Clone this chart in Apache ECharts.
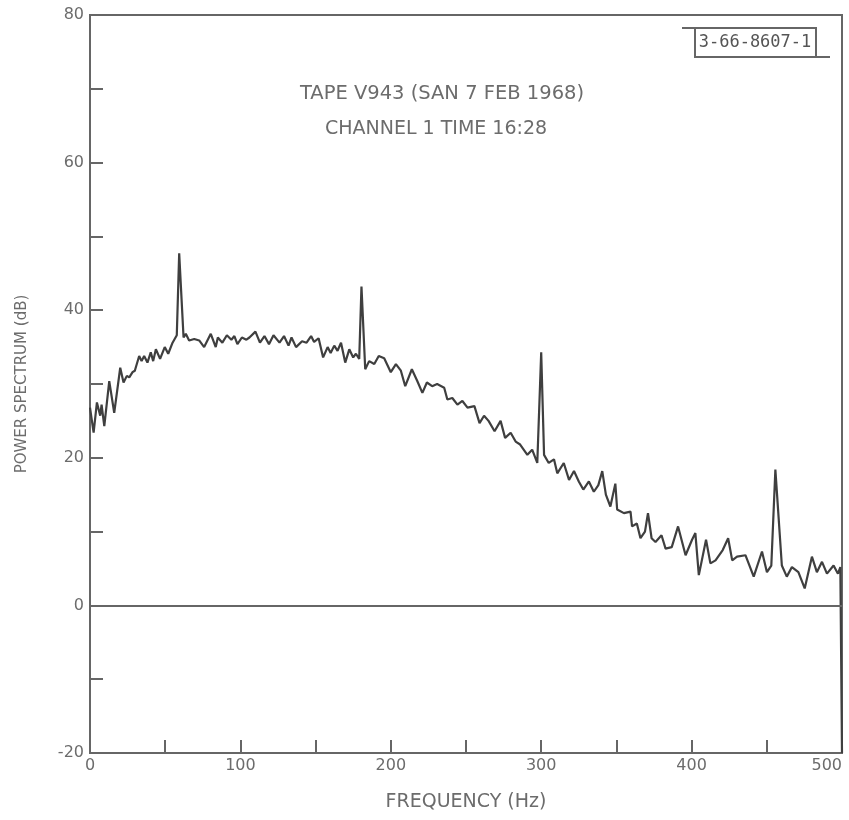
<!DOCTYPE html>
<html>
<head>
<meta charset="utf-8">
<script src="https://cdn.jsdelivr.net/npm/echarts@6/dist/echarts.min.js"></script>
<style>html,body{margin:0;padding:0;background:#fff;overflow:hidden}#c{width:849px;height:820px}</style>
</head>
<body>
<div id="c"></div>
<script>
// Frequency (Hz) of each sample of the trace
var freq = [0, 2.4, 4.6, 6.8, 7.7, 9.5, 12.8, 16.1, 20.1, 22.3, 24.5, 26.1, 28.3, 29.8, 32.7, 34.3, 36, 38.2, 40.4, 42, 43.8, 46.6, 49.7, 52, 54.9, 57.7, 59.3, 62.2, 63.7, 65.9, 69.3, 72.6, 75.9, 80.3, 83.6, 85, 88, 91, 94, 96, 98, 101, 104, 106, 110, 113, 116, 119, 122, 126, 129, 132, 134, 137, 141, 144, 147, 149, 152, 155, 158, 160, 162.4, 164.6, 166.9, 169.7, 172.4, 175, 176.8, 179, 180.5, 183, 185.6, 189, 192, 195.6, 200, 203.4, 206.7, 209.6, 214, 217.6, 221, 224, 227.5, 230.8, 235.5, 237.6, 240.9, 244.3, 247.6, 251, 255.6, 259, 262, 265, 269, 273, 276, 279.7, 283, 286, 290.8, 294, 297.4, 300, 301.9, 305, 308.5, 310.7, 315, 318.5, 321.8, 325, 328, 331.7, 335, 338, 340.6, 343, 346, 349.3, 350.5, 355, 359.4, 360.4, 363.6, 366, 369, 371, 373.4, 376, 380, 382.7, 386.8, 391, 396, 400.3, 402.5, 404.8, 409.6, 412.5, 415.9, 420.7, 424.3, 427, 430.2, 435.8, 441.3, 446.8, 450.1, 453, 455.7, 460, 463.3, 466.7, 471, 475.2, 480, 483.3, 486.7, 490, 494.4, 497.3, 498.9, 500];
// Power spectrum (dB) at each frequency
var power = [26.8, 23.4, 27.5, 25.7, 27.2, 24.3, 30.4, 26.1, 32.2, 30.2, 31.1, 30.9, 31.6, 31.8, 33.8, 33.1, 33.8, 32.9, 34.3, 33.1, 34.7, 33.4, 35, 34.1, 35.6, 36.6, 47.7, 36.3, 36.8, 35.9, 36.1, 35.9, 35, 36.8, 35, 36.3, 35.6, 36.6, 36, 36.5, 35.4, 36.3, 36, 36.3, 37.1, 35.6, 36.5, 35.4, 36.6, 35.6, 36.5, 35.2, 36.3, 35, 35.8, 35.6, 36.5, 35.7, 36.2, 33.6, 35, 34.2, 35.2, 34.5, 35.6, 32.9, 34.7, 33.6, 34.1, 33.4, 43.2, 32, 33.1, 32.7, 33.8, 33.5, 31.6, 32.7, 31.8, 29.7, 32, 30.4, 28.8, 30.2, 29.7, 30, 29.5, 27.9, 28.1, 27.2, 27.7, 26.8, 27, 24.7, 25.7, 25, 23.6, 25, 22.7, 23.4, 22.2, 21.8, 20.4, 21.1, 19.3, 34.3, 20.4, 19.3, 19.8, 17.9, 19.3, 17, 18.2, 16.8, 15.7, 16.8, 15.4, 16.3, 18.2, 15, 13.4, 16.5, 13, 12.5, 12.7, 10.7, 11.1, 9.1, 10, 12.5, 9.1, 8.6, 9.5, 7.7, 7.9, 10.7, 6.8, 8.9, 9.8, 4.1, 8.9, 5.7, 6.1, 7.5, 9.1, 6.1, 6.6, 6.8, 3.9, 7.3, 4.5, 5.4, 18.4, 5.4, 3.9, 5.2, 4.5, 2.3, 6.6, 4.5, 5.9, 4.3, 5.4, 4.3, 5.2, -20];
var xLabels = ['0', '100', '200', '300', '400', '500'];
var yLabels = ['-20', '0', '20', '40', '60', '80'];
var titleLine1 = 'TAPE V943 (SAN 7 FEB 1968)';
var titleLine2 = 'CHANNEL 1 TIME 16:28';
var refCode = '3-66-8607-1';

var axisColor = '#666666';
var textColor = '#6c6c6c';
var fam = 'DejaVu Sans';

var pts = freq.map(function (f, i) { return [f, power[i]]; });

var chart = echarts.init(document.getElementById('c'), null, { renderer: 'canvas', width: 849, height: 820 });
chart.setOption({
  backgroundColor: '#ffffff',
  animation: false,
  grid: { left: 90, right: 7, top: 15, bottom: 67, show: true, borderColor: axisColor, borderWidth: 2,
    containLabel: false, outerBoundsMode: 'none' },
  graphic: [
    { type: 'text', style: { text: titleLine1, x: 442, y: 94, textAlign: 'center', textVerticalAlign: 'middle',
      font: '19.5px "DejaVu Sans"', fill: textColor } },
    { type: 'text', style: { text: titleLine2, x: 436, y: 129, textAlign: 'center', textVerticalAlign: 'middle',
      font: '19px "DejaVu Sans"', fill: textColor } },
    { type: 'rect', shape: { x: 695, y: 28, width: 121, height: 29 }, style: { fill: 'none', stroke: axisColor, lineWidth: 2 } },
    { type: 'line', shape: { x1: 682, y1: 28, x2: 695, y2: 28 }, style: { stroke: axisColor, lineWidth: 2 } },
    { type: 'line', shape: { x1: 816, y1: 57, x2: 830, y2: 57 }, style: { stroke: axisColor, lineWidth: 2 } },
    { type: 'text', style: { text: refCode, x: 755, y: 43, textAlign: 'center', textVerticalAlign: 'middle',
      font: '17px "DejaVu Sans Mono"', fill: '#555555' } }
  ],
  xAxis: {
    type: 'value', min: 0, max: 500, interval: 50,
    name: 'FREQUENCY (Hz)', nameLocation: 'middle', nameGap: 40,
    nameTextStyle: { fontFamily: fam, fontSize: 19, color: textColor },
    axisLine: { show: true, onZero: false, lineStyle: { color: axisColor, width: 2 } },
    axisTick: { show: true, inside: true, length: 13, lineStyle: { color: axisColor, width: 2 } },
    splitLine: { show: false },
    axisLabel: { fontFamily: fam, fontSize: 16, color: textColor, margin: 5, alignMaxLabel: 'right',
      formatter: function (v) { var k = xLabels.indexOf(String(v)); return k >= 0 ? xLabels[k] : ''; } }
  },
  yAxis: {
    type: 'value', min: -20, max: 80, interval: 10,
    name: 'POWER SPECTRUM (dB)', nameLocation: 'middle', nameGap: 60,
    nameTextStyle: { fontFamily: fam, fontSize: 15, color: textColor },
    axisLine: { show: true, onZero: false, lineStyle: { color: axisColor, width: 2 } },
    axisTick: { show: true, inside: true, length: 13, lineStyle: { color: axisColor, width: 2 } },
    splitLine: { show: false },
    axisLabel: { fontFamily: fam, fontSize: 16, color: textColor, margin: 6,
      formatter: function (v) { var k = yLabels.indexOf(String(v)); return k >= 0 ? yLabels[k] : ''; } }
  },
  series: [{
    type: 'line', data: pts, showSymbol: false, symbol: 'none',
    lineStyle: { color: '#3f3f3f', width: 2.2 },
    markLine: { silent: true, symbol: 'none', label: { show: false },
      lineStyle: { color: axisColor, width: 2, type: 'solid' },
      data: [{ yAxis: 0 }] }
  }]
});
</script>
</body>
</html>
